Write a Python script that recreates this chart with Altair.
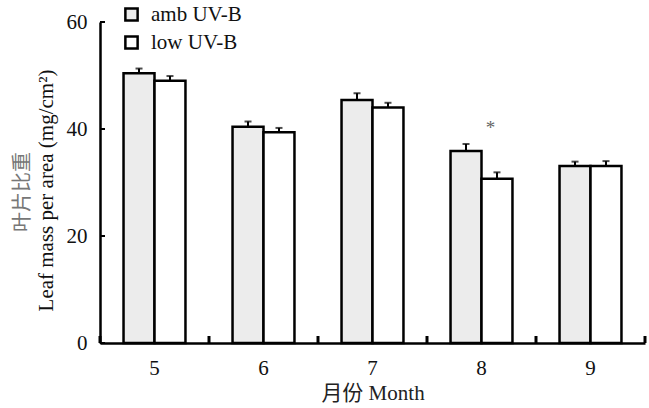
import altair as alt
import pandas as pd

months = ["5", "6", "7", "8", "9"]
groups = ["amb UV-B", "low UV-B"]
amb = [50.4, 40.4, 45.4, 35.9, 33.1]
amb_err = [0.9, 1.0, 1.3, 1.3, 0.8]
low = [49.0, 39.4, 44.0, 30.7, 33.1]
low_err = [0.9, 0.8, 0.9, 1.2, 0.9]
y_ticks = [0, 20, 40, 60]
sig_month = ["8"]
sig_label = ["*"]

rows = []
for i, m in enumerate(months):
    rows.append({"month": m, "group": groups[0], "value": amb[i], "upper": amb[i] + amb_err[i]})
    rows.append({"month": m, "group": groups[1], "value": low[i], "upper": low[i] + low_err[i]})
df = pd.DataFrame(rows)

sig_rows = []
for m, lab in zip(sig_month, sig_label):
    top = df[df.month == m].upper.max()
    sig_rows.append({"month": m, "label": lab, "y": top})
sig_df = pd.DataFrame(sig_rows)

SERIF = "Liberation Serif, Noto Sans CJK SC"
FS = 21

xscale = alt.Scale(domain=months, paddingInner=0, paddingOuter=0)
xoff = alt.Scale(domain=groups, paddingInner=0, paddingOuter=0.76)
yscale = alt.Scale(domain=[0, 60], nice=False)

x_enc = alt.X(
    "month:N", scale=xscale,
    axis=alt.Axis(
        title="月份 Month", labelAngle=0, ticks=False, labelPadding=14,
        labelFont=SERIF, labelFontSize=FS, labelColor="#111",
        titleFont=SERIF, titleFontSize=FS, titleFontWeight="normal", titleColor="#222",
        titleY=50, titleBaseline="middle",
        domainColor="black", domainWidth=2.5,
    ),
)
y_enc = alt.Y(
    "value:Q", scale=yscale,
    axis=alt.Axis(
        values=y_ticks, ticks=False, grid=False, labelPadding=13,
        labelFont=SERIF, labelFontSize=FS, labelColor="#111",
        title="Leaf mass per area (mg/cm²)", titleFont=SERIF, titleFontSize=FS,
        titleFontWeight="normal", titleColor="#111",
        titleX=-54, titleY=168, titleAngle=270, titleAlign="center", titleBaseline="middle",
        domainColor="black", domainWidth=2.5,
    ),
)

base = alt.Chart(df)

bars = base.mark_bar(stroke="black", strokeWidth=2.5).encode(
    x=x_enc,
    xOffset=alt.XOffset("group:N", scale=xoff),
    y=y_enc,
    fill=alt.Fill("group:N", scale=alt.Scale(domain=groups, range=["#ececec", "white"]),
                  legend=alt.Legend(title=None, orient="none", legendX=21, legendY=-18,
                                    symbolType="square", symbolSize=150,
                                    symbolStrokeColor="black", symbolStrokeWidth=2.5,
                                    labelFont=SERIF, labelFontSize=FS, labelColor="#111",
                                    rowPadding=5, labelOffset=9)),
)

err = base.mark_rule(color="black", strokeWidth=2).encode(
    x=alt.X("month:N", scale=xscale),
    xOffset=alt.XOffset("group:N", scale=xoff),
    y=alt.Y("value:Q", scale=yscale),
    y2="upper:Q",
)
cap = base.mark_tick(color="black", thickness=2, size=7, orient="horizontal").encode(
    x=alt.X("month:N", scale=xscale),
    xOffset=alt.XOffset("group:N", scale=xoff),
    y=alt.Y("upper:Q", scale=yscale),
)

tick_df = pd.DataFrame({"month": months})
xticks = alt.Chart(tick_df).mark_rule(color="black", strokeWidth=3).encode(
    x=alt.X("month:N", scale=xscale, bandPosition=0),
    y=alt.value(321), y2=alt.value(314),
)
xtick_end = alt.Chart(pd.DataFrame({"month": [months[-1]]})).mark_rule(color="black", strokeWidth=3).encode(
    x=alt.X("month:N", scale=xscale, bandPosition=1),
    y=alt.value(321), y2=alt.value(314),
)
ytick_df = pd.DataFrame({"v": y_ticks})
yticks = alt.Chart(ytick_df).mark_rule(color="black", strokeWidth=2).encode(
    y=alt.Y("v:Q", scale=yscale),
    x=alt.value(0), x2=alt.value(5),
)

star = alt.Chart(sig_df).mark_text(fontSize=19, color="#666", font=SERIF, dx=9, dy=-16).encode(
    x=alt.X("month:N", scale=xscale),
    y=alt.Y("y:Q", scale=yscale),
    text="label:N",
)

cn_title = alt.Chart(pd.DataFrame({"t": ["叶片比重"]})).mark_text(
    font="Noto Sans CJK SC", fontSize=20, color="#777", angle=270, baseline="middle", align="center"
).encode(x=alt.value(-77), y=alt.value(170), text="t:N")

chart = alt.layer(bars, err, cap, xticks, xtick_end, yticks, star, cn_title).properties(
    width=545, height=321,
    autosize=alt.AutoSizeParams(type="none"),
    padding={"left": 100, "top": 22, "right": 4, "bottom": 65},
    background="white",
).configure_view(stroke=None)

chart.save("out.html", embed_options={"renderer": "svg", "actions": False})
